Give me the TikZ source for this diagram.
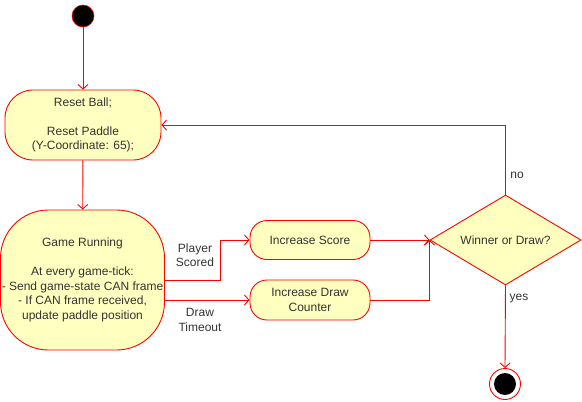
\documentclass[tikz,border=0pt]{standalone}
\usepackage{fontspec}
\setmainfont{Liberation Sans}
\usetikzlibrary{arrows.meta,shapes.geometric}
\definecolor{fillY}{HTML}{FFFFC0}
\definecolor{lineR}{HTML}{FF0000}
\definecolor{txt}{HTML}{333333}
\tikzset{
  state/.style={draw=lineR, fill=fillY, line width=0.9pt, align=center, inner sep=0pt, text=txt, font=\fontsize{12}{14.5}\selectfont},
  lbl/.style={align=center, text=txt, font=\fontsize{12}{14.5}\selectfont, inner sep=0pt},
  flow/.style={draw=lineR, line width=0.9pt, -{Straight Barb[length=4.5pt,width=10pt]}},
}
\begin{document}
\begin{tikzpicture}[x=1pt,y=-1pt]
\useasboundingbox (0,0) rectangle (582,402);
\node[circle, fill=black, draw=lineR, line width=0.6pt, minimum size=22pt, inner sep=0pt] (start) at (83,16) {};
\node[state, rounded corners=28pt, minimum width=156pt, minimum height=70pt] (rb) at (83,125) {Reset Ball;\\[14.5pt]Reset Paddle\\(Y-Coordinate: 65);};
\node[state, rounded corners=48pt, minimum width=164pt, minimum height=140pt] (gr) at (82.5,280) {Game Running\\[14.5pt]At every game-tick:\\- Send game-state CAN frame\\- If CAN frame received,\\update paddle position};
\node[state, rounded corners=17pt, minimum width=120pt, minimum height=39pt] (is) at (310,240) {Increase Score};
\node[state, rounded corners=17pt, minimum width=120pt, minimum height=40pt] (dc) at (310,300) {Increase Draw\\Counter};
\node[state, diamond, aspect=1.68, minimum width=151pt, minimum height=90pt] (dia) at (505.5,240) {Winner or Draw?};
\node[circle, draw=lineR, line width=0.9pt, fill=white, minimum size=31pt, inner sep=0pt] (endo) at (505,384) {};
\node[circle, fill=black, minimum size=22pt, inner sep=0pt] (endi) at (endo.center) {};
\node[lbl] (lps) at (195,255) {Player\\Scored};
\node[lbl] (ldt) at (200,320) {Draw\\Timeout};
\node[lbl] (lno) at (517,175) {no};
\node[lbl] (lyes) at (519,299) {yes};
\draw[flow] (start) -- (rb);
\draw[flow] (rb) -- (gr);
\draw[flow] (gr.east) -- ++(55,0) |- (is.west);
\draw[flow] (gr.east |- dc.west) -- (dc.west);
\draw[flow] (is.east) -- (dia.west);
\draw[flow] (dc.east) -| (dia.west);
\draw[flow] (dia.north) |- (rb.east);
\draw[flow] (dia.south) -- (endo.north);
\end{tikzpicture}
\end{document}
